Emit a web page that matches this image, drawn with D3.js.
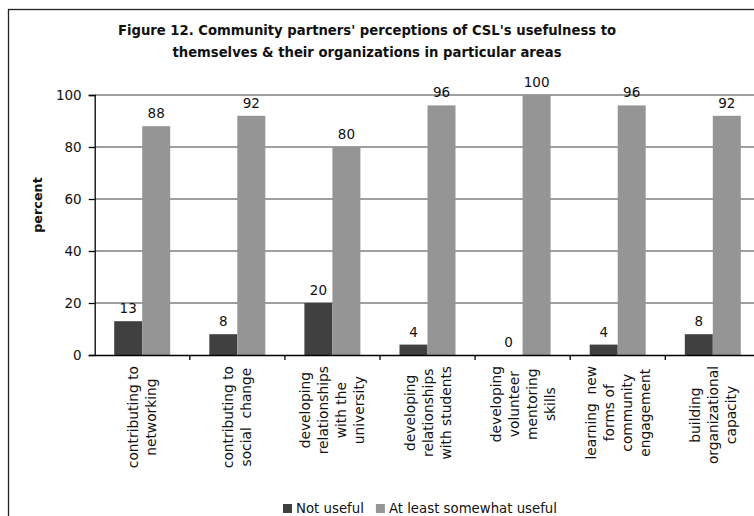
<!DOCTYPE html>
<html>
<head>
<meta charset="utf-8">
<script src="https://cdn.jsdelivr.net/npm/d3@7"></script>
<style>
  body { margin: 0; background: #fff; }
  svg { display: block; font-family: "DejaVu Sans", Verdana, sans-serif; }
</style>
</head>
<body>
<svg id="chart" width="754" height="516"></svg>
<script>
// chart data
var categories = [
  "contributing to networking",
  "contributing to social change",
  "developing relationships with the university",
  "developing relationships with students",
  "developing volunteer mentoring skills",
  "learning new forms of community engagement",
  "building organizational capacity"
];
// how each category label is broken into lines
var categoryLines = [
  ["contributing to", "networking"],
  ["contributing to", "social  change"],
  ["developing", "relationships", "with the", "university"],
  ["developing", "relationships", "with students"],
  ["developing", "volunteer", "mentoring", "skills"],
  ["learning  new", "forms of", "community", "engagement"],
  ["building", "organizational", "capacity"]
];
var seriesNames = ["Not useful", "At least somewhat useful"];
var notUseful = [13, 8, 20, 4, 0, 4, 8];
var somewhatUseful = [88, 92, 80, 96, 100, 96, 92];
var yTicks = [0, 20, 40, 60, 80, 100];
var titleLines = [
  "Figure 12. Community partners' perceptions of CSL's usefulness to",
  "themselves & their organizations in particular areas"
];
var colors = ["#404040", "#959595"];

var svg = d3.select("#chart");

//outer chart border (right and bottom fall outside the picture)
svg.append("rect")
    .attr("x", 8.5).attr("y", 9.5)
    .attr("width", 820).attr("height", 620)
    .attr("fill", "none").attr("stroke", "#222").attr("stroke-width", 1.3);

//title
svg.append("g").selectAll("text")
    .data(titleLines)
    .enter().append("text")
    .attr("x", 367)
    .attr("y", function(d, i) { return 35 + i * 22; })
    .attr("text-anchor", "middle")
    .attr("font-size", 13.2)
    .attr("font-weight", "bold")
    .attr("fill", "#111")
    .text(function(d) { return d; });

//scales
var x = d3.scaleBand().domain(categories).range([94.7, 94.7 + 7 * 95.1]);
var xSub = d3.scaleBand().domain(seriesNames).range([19.5, 75.5]);
var y = d3.scaleLinear().domain([0, 100]).range([355, 95]);

//gridlines
svg.append("g").selectAll("line")
    .data(yTicks.slice(1))
    .enter().append("line")
    .attr("x1", 94.7).attr("x2", 754)
    .attr("y1", function(d) { return y(d); })
    .attr("y2", function(d) { return y(d); })
    .attr("stroke", "#7f7f7f").attr("stroke-width", 1.4);

//bars
var rows = categories.map(function(c, i) {
  return {cat: c, values: [notUseful[i], somewhatUseful[i]]};
});
var group = svg.append("g").selectAll("g")
    .data(rows)
    .enter().append("g")
    .attr("transform", function(d) { return "translate(" + x(d.cat) + ",0)"; });

group.selectAll("rect")
    .data(function(d) { return d.values.map(function(v, j) { return {s: seriesNames[j], v: v, j: j}; }); })
    .enter().append("rect")
    .attr("x", function(d) { return xSub(d.s); })
    .attr("width", xSub.bandwidth())
    .attr("y", function(d) { return y(d.v); })
    .attr("height", function(d) { return y(0) - y(d.v); })
    .attr("fill", function(d) { return colors[d.j]; });

//value labels
group.selectAll("text")
    .data(function(d) { return d.values.map(function(v, j) { return {s: seriesNames[j], v: v}; }); })
    .enter().append("text")
    .attr("x", function(d) { return xSub(d.s) + xSub.bandwidth() / 2; })
    .attr("y", function(d) { return y(d.v) - 8; })
    .attr("text-anchor", "middle")
    .attr("font-size", 13.5)
    .attr("fill", "#111")
    .text(function(d) { return d.v; });

//y axis
var yAxis = svg.append("g")
    .attr("transform", "translate(94.7,0)")
    .call(d3.axisLeft(y).tickValues(yTicks).tickSize(6).tickPadding(7));
yAxis.select(".domain").attr("stroke", "#000").attr("stroke-width", 1.3);
yAxis.selectAll(".tick line").attr("stroke", "#000").attr("stroke-width", 1.3);
yAxis.selectAll("text").attr("font-size", 13.5).attr("fill", "#111")
    .attr("font-family", "DejaVu Sans, Verdana, sans-serif");

//x axis line with ticks between categories
var xAxis = svg.append("g")
    .attr("transform", "translate(0,355)")
    .call(d3.axisBottom(x).tickSize(0).tickFormat(""));
xAxis.select(".domain").attr("stroke", "#000").attr("stroke-width", 1.3);
svg.append("g").selectAll("line")
    .data(categories.slice(1))
    .enter().append("line")
    .attr("x1", function(d) { return x(d); })
    .attr("x2", function(d) { return x(d); })
    .attr("y1", 355).attr("y2", 360)
    .attr("stroke", "#000").attr("stroke-width", 1.3);

//category labels, rotated, lines centred on each other
var lh = 18, fs = 13.8;
var labels = svg.append("g").selectAll("g")
    .data(categories)
    .enter().append("g");
labels.each(function(c, i) {
  var lines = categoryLines[i];
  var g = d3.select(this);
  var cx = x(c) + x.bandwidth() / 2;
  var t = g.selectAll("text").data(lines).enter().append("text")
      .attr("font-size", fs).attr("fill", "#111")
      .attr("text-anchor", "middle")
      .style("white-space", "pre")
      .text(function(d) { return d; });
  var maxLen = d3.max(t.nodes(), function(n) { return n.getComputedTextLength(); });
  var cy = 366 + maxLen / 2;
  t.attr("transform", function(d, k) {
    var bx = cx + (k - (lines.length - 1) / 2) * lh + fs * 0.36;
    return "translate(" + bx + "," + cy + ") rotate(-90)";
  });
});

//y axis title
svg.append("text")
    .attr("transform", "translate(42,205) rotate(-90)")
    .attr("text-anchor", "middle")
    .attr("font-size", 12.8)
    .attr("font-weight", "bold")
    .attr("fill", "#111")
    .text("percent");

//legend
var legend = svg.append("g").attr("transform", "translate(283,513)");
var lx = 0;
seriesNames.forEach(function(s, i) {
  legend.append("rect")
      .attr("x", lx).attr("y", -9).attr("width", 9).attr("height", 9)
      .attr("fill", colors[i]);
  var t = legend.append("text")
      .attr("x", lx + 13).attr("y", 0)
      .attr("font-size", 13.3).attr("fill", "#111")
      .text(s);
  lx += 13 + t.node().getComputedTextLength() + 12;
});
</script>
</body>
</html>
